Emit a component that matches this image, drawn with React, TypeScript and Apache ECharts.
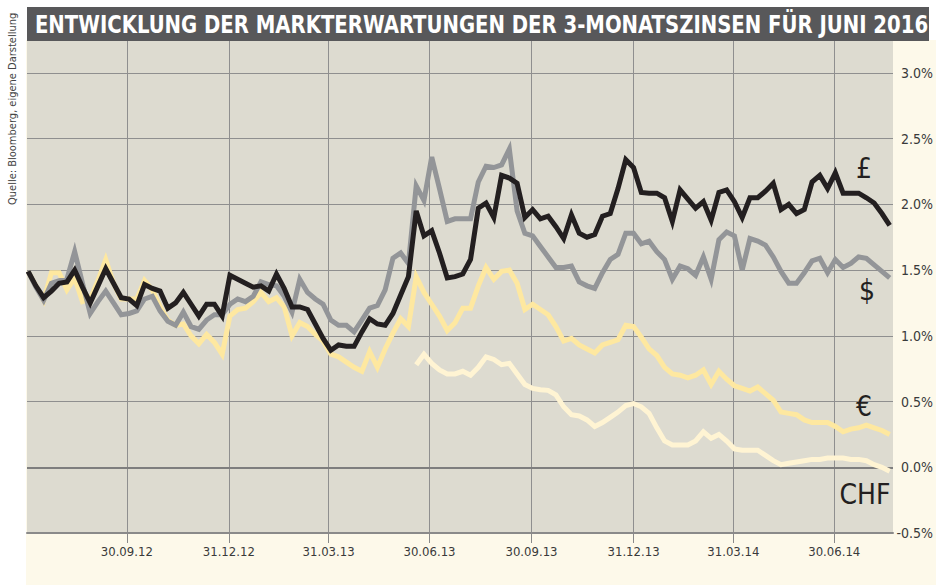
import React, { useEffect, useRef } from 'react';
import * as echarts from 'echarts';

const FONT = "'DejaVu Sans Condensed', 'Liberation Sans Narrow', 'Liberation Sans', sans-serif";

const TITLE = 'ENTWICKLUNG DER MARKTERWARTUNGEN DER 3-MONATSZINSEN FÜR JUNI 2016';
const SOURCE = 'Quelle: Bloomberg, eigene Darstellung';

const axisStart = '2012-07-02';
const axisEnd = '2014-08-22';
const firstWeek = '2012-07-03';
const quarterEnds = ['2012-09-30', '2012-12-31', '2013-03-31', '2013-06-30', '2013-09-30', '2013-12-31', '2014-03-31', '2014-06-30'];

// weekly values, %
const gbp = [
  1.49, 1.38, 1.29, 1.34, 1.40, 1.41, 1.50, 1.37, 1.25, 1.38,
  1.51, 1.40, 1.29, 1.28, 1.23, 1.39, 1.36, 1.34, 1.21, 1.25,
  1.33, 1.24, 1.15, 1.24, 1.24, 1.15, 1.46, 1.43, 1.40, 1.37,
  1.38, 1.34, 1.47, 1.36, 1.22, 1.22, 1.20, 1.09, 0.98, 0.89,
  0.93, 0.92, 0.92, 1.03, 1.13, 1.09, 1.08, 1.17, 1.31, 1.45,
  1.95, 1.76, 1.80, 1.63, 1.44, 1.45, 1.47, 1.58, 1.97, 2.01,
  1.90, 2.22, 2.20, 2.16, 1.90, 1.96, 1.89, 1.91, 1.83, 1.74,
  1.92, 1.78, 1.75, 1.77, 1.91, 1.93, 2.12, 2.34, 2.28, 2.09,
  2.085, 2.085, 2.05, 1.87, 2.11, 2.04, 1.97, 2.02, 1.88, 2.09,
  2.11, 2.02, 1.90, 2.05, 2.05, 2.10, 2.16, 1.96, 2.00, 1.93,
  1.96, 2.17, 2.22, 2.12, 2.24, 2.085, 2.085, 2.085, 2.05, 2.01,
  1.93, 1.84,
];

const usd = [
  1.49, 1.37, 1.27, 1.40, 1.42, 1.43, 1.64, 1.40, 1.17, 1.26,
  1.34, 1.25, 1.16, 1.17, 1.19, 1.28, 1.30, 1.19, 1.11, 1.08,
  1.18, 1.07, 1.05, 1.12, 1.16, 1.16, 1.24, 1.28, 1.26, 1.30,
  1.41, 1.39, 1.38, 1.30, 1.18, 1.43, 1.33, 1.28, 1.24, 1.12,
  1.08, 1.08, 1.03, 1.12, 1.21, 1.23, 1.35, 1.59, 1.63, 1.55,
  2.14, 2.03, 2.36, 2.12, 1.87, 1.89, 1.89, 1.89, 2.17, 2.29,
  2.28, 2.30, 2.42, 1.95, 1.78, 1.76, 1.68, 1.60, 1.52, 1.52,
  1.53, 1.41, 1.38, 1.36, 1.48, 1.58, 1.62, 1.78, 1.78, 1.70,
  1.72, 1.64, 1.58, 1.43, 1.53, 1.51, 1.46, 1.60, 1.43, 1.73,
  1.79, 1.76, 1.50, 1.74, 1.72, 1.69, 1.60, 1.49, 1.40, 1.40,
  1.48, 1.57, 1.59, 1.48, 1.58, 1.52, 1.55, 1.60, 1.59, 1.54,
  1.49, 1.44,
];

const eur = [
  1.49, 1.38, 1.27, 1.48, 1.48, 1.35, 1.44, 1.26, 1.28, 1.42,
  1.58, 1.40, 1.28, 1.28, 1.28, 1.42, 1.35, 1.22, 1.12, 1.08,
  1.09, 1.00, 0.94, 1.01, 0.95, 0.86, 1.15, 1.20, 1.21, 1.26,
  1.33, 1.26, 1.29, 1.22, 1.00, 1.10, 1.07, 1.01, 0.96, 0.86,
  0.84, 0.80, 0.76, 0.73, 0.88, 0.76, 0.90, 1.02, 1.13, 1.07,
  1.45, 1.33, 1.24, 1.15, 1.04, 1.10, 1.21, 1.21, 1.38, 1.52,
  1.43, 1.49, 1.50, 1.40, 1.20, 1.24, 1.20, 1.16, 1.07, 0.96,
  0.98, 0.93, 0.90, 0.87, 0.93, 0.95, 0.97, 1.08, 1.07, 0.99,
  0.90, 0.85, 0.76, 0.71, 0.70, 0.68, 0.70, 0.74, 0.63, 0.73,
  0.67, 0.62, 0.60, 0.58, 0.61, 0.56, 0.51, 0.42, 0.41, 0.40,
  0.36, 0.34, 0.34, 0.34, 0.31, 0.27, 0.29, 0.30, 0.32, 0.30,
  0.28, 0.25,
];

const chfFirstWeekIndex = 50;
const chf = [
  0.78, 0.86, 0.79, 0.74, 0.71, 0.71, 0.73, 0.70, 0.76, 0.84,
  0.82, 0.78, 0.79, 0.71, 0.63, 0.60, 0.59, 0.585, 0.55, 0.46,
  0.40, 0.39, 0.36, 0.31, 0.34, 0.38, 0.42, 0.47, 0.485, 0.46,
  0.41, 0.30, 0.20, 0.17, 0.17, 0.17, 0.20, 0.27, 0.22, 0.25,
  0.20, 0.14, 0.13, 0.13, 0.13, 0.09, 0.05, 0.02, 0.03, 0.04,
  0.05, 0.06, 0.06, 0.07, 0.07, 0.07, 0.06, 0.06, 0.05, 0.02,
  0.00, -0.03,
];

const yMin = -0.5;
const yMax = 3.25;
const yStep = 0.5;

const DAY = 86400000;
const parseUTC = (s: string) => {
  const [y, m, d] = s.split('-').map(Number);
  return Date.UTC(y, m - 1, d);
};
const originTs = parseUTC(axisStart);
const dayOf = (s: string) => Math.round((parseUTC(s) - originTs) / DAY);
const pad = (n: number) => (n < 10 ? '0' + n : '' + n);

const C_GBP = '#231f20';
const C_USD = '#939598';
const C_EUR = '#fee8a0';
const C_CHF = '#fff4d3';

export default function App() {
  const ref = useRef<HTMLDivElement>(null);

  useEffect(() => {
    document.body.style.margin = '0';
    if (!ref.current) return;
    const chart = echarts.init(ref.current, null, { renderer: 'svg' });
    const first = dayOf(firstWeek);
    const weekX = (i: number) => first + 7 * i;
    const qDays = quarterEnds.map(dayOf);

    const lineSeries = (name: string, values: number[], offset: number, color: string, extra: any = {}) => ({
      name,
      type: 'line',
      data: values.map((v, i) => [weekX(i + offset), v]),
      showSymbol: false,
      symbol: 'none',
      lineStyle: { color, width: 5, join: 'miter', cap: 'butt', miterLimit: 4 },
      emphasis: { disabled: true },
      silent: true,
      ...extra,
    });

    chart.setOption({
      animation: false,
      grid: {
        left: 27,
        right: 41,
        top: 40,
        bottom: 52,
        show: true,
        backgroundColor: '#dddbd0',
        borderWidth: 0,
      },
      xAxis: {
        type: 'value',
        min: 0,
        max: dayOf(axisEnd),
        axisLine: { show: true, onZero: false, lineStyle: { color: '#8a8a8a', width: 2 } },
        axisTick: { show: true, customValues: qDays, length: 10, lineStyle: { color: '#8a8a8a', width: 1 } },
        axisLabel: {
          customValues: qDays,
          margin: 12,
          color: '#3a3a3a',
          fontSize: 13,
          fontFamily: FONT,
          formatter: (v: number) => {
            const dt = new Date(originTs + v * DAY);
            return pad(dt.getUTCDate()) + '.' + pad(dt.getUTCMonth() + 1) + '.' + pad(dt.getUTCFullYear() % 100);
          },
        },
        splitLine: { show: true, lineStyle: { color: '#8f8f8f', width: 1 } },
      },
      yAxis: {
        type: 'value',
        position: 'right',
        min: yMin,
        max: yMax,
        interval: yStep,
        axisLine: { show: false },
        axisTick: { show: false },
        axisLabel: {
          align: 'right',
          margin: 40,
          color: '#3a3a3a',
          fontSize: 14,
          fontFamily: FONT,
          showMaxLabel: false,
          formatter: (v: number) => (v > 3.1 ? '' : v.toFixed(1) + '%'),
        },
        splitLine: { show: true, lineStyle: { color: '#8f8f8f', width: 1 } },
      },
      graphic: [
        { type: 'rect', shape: { x: 27, y: 7, width: 902, height: 34 }, style: { fill: '#58585a' }, z: 100 },
        {
          type: 'text', x: 481.5, y: 24, scaleX: 0.875, z: 101,
          style: { text: TITLE, fill: '#ffffff', font: `bold 25px ${FONT}`, align: 'center', verticalAlign: 'middle' },
        },
        {
          type: 'text', x: 12, y: 205, rotation: Math.PI / 2, z: 101,
          style: { text: SOURCE, fill: '#444444', font: `11px ${FONT}`, align: 'left', verticalAlign: 'middle' },
        },
        { type: 'text', x: 864, y: 168, z: 101, style: { text: '£', fill: C_GBP, font: `28px ${FONT}`, align: 'center', verticalAlign: 'middle' } },
        { type: 'text', x: 867, y: 290, z: 101, style: { text: '$', fill: C_GBP, font: `28px ${FONT}`, align: 'center', verticalAlign: 'middle' } },
        { type: 'text', x: 864, y: 406, z: 101, style: { text: '€', fill: C_GBP, font: `28px ${FONT}`, align: 'center', verticalAlign: 'middle' } },
        { type: 'text', x: 865, y: 494, z: 101, style: { text: 'CHF', fill: C_GBP, font: `28px ${FONT}`, align: 'center', verticalAlign: 'middle' } },
      ],
      series: [
        lineSeries('CHF', chf, chfFirstWeekIndex, C_CHF, {
          markLine: {
            silent: true,
            symbol: ['none', 'none'],
            label: { show: false },
            lineStyle: { color: '#7e7e7e', width: 2, type: 'solid' },
            emphasis: { disabled: true },
            data: [{ yAxis: 0 }],
            z: 1,
          },
        }),
        lineSeries('€', eur, 0, C_EUR),
        lineSeries('$', usd, 0, C_USD),
        lineSeries('£', gbp, 0, C_GBP),
      ],
    });
    return () => chart.dispose();
  }, []);

  return (
    <div style={{ position: 'relative', width: 936, height: 585, background: '#ffffff', overflow: 'hidden' }}>
      <div style={{ position: 'absolute', left: 26, top: 40, width: 910, height: 545, background: '#fdf9ea' }} />
      <div ref={ref} style={{ position: 'absolute', left: 0, top: 0, width: 936, height: 585 }} />
    </div>
  );
}
